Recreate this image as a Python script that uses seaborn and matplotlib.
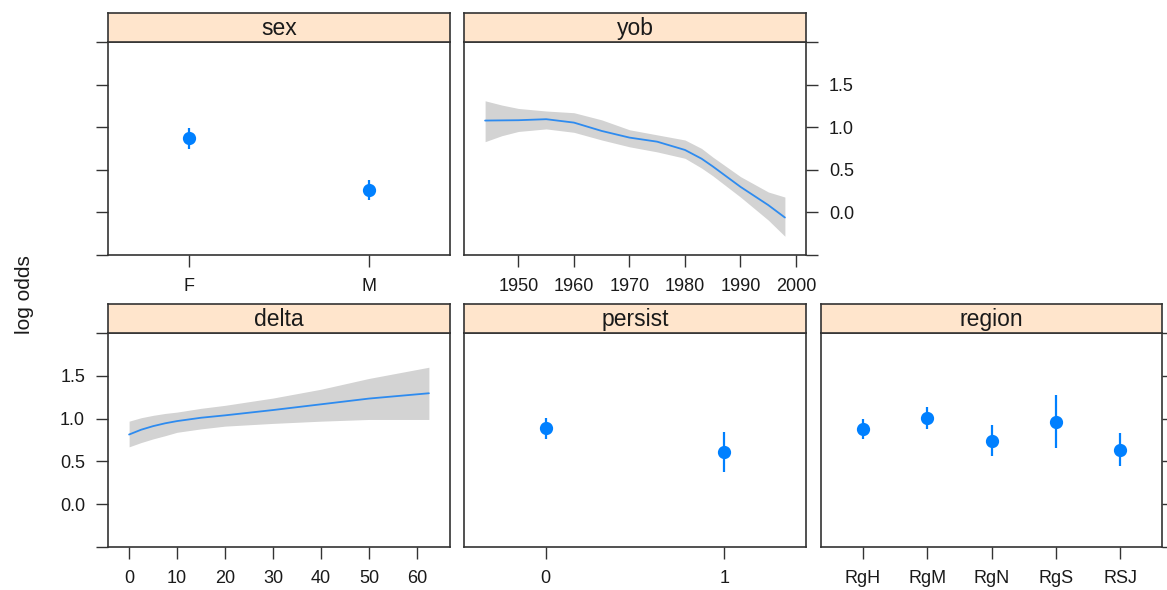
import numpy as np
import pandas as pd
import matplotlib
matplotlib.use("Agg")
import matplotlib.pyplot as plt
import seaborn as sns

# ---------------- data ----------------
sex_levels = ["F", "M"]
sex_fit = [0.874, 0.267]
sex_lower = [0.748, 0.149]
sex_upper = [0.995, 0.385]

yob_x = [1944, 1947, 1950, 1955, 1960, 1965, 1970, 1975, 1980, 1983, 1985, 1990, 1995, 1998]
yob_fit = [1.078, 1.08, 1.082, 1.094, 1.054, 0.956, 0.878, 0.83, 0.733, 0.63, 0.54, 0.30, 0.086, -0.06]
yob_lower = [0.83, 0.90, 0.95, 0.98, 0.94, 0.85, 0.77, 0.71, 0.635, 0.52, 0.43, 0.18, -0.09, -0.28]
yob_upper = [1.31, 1.26, 1.22, 1.19, 1.17, 1.086, 0.97, 0.91, 0.85, 0.75, 0.65, 0.42, 0.24, 0.18]

delta_x = [0, 2.5, 5, 7.5, 10, 15, 20, 30, 40, 50, 62.5]
delta_fit = [0.814, 0.87, 0.912, 0.945, 0.971, 1.01, 1.038, 1.10, 1.167, 1.234, 1.296]
delta_lower = [0.67, 0.72, 0.763, 0.80, 0.84, 0.88, 0.912, 0.944, 0.97, 0.99, 0.99]
delta_upper = [0.97, 1.01, 1.038, 1.06, 1.076, 1.12, 1.155, 1.24, 1.343, 1.469, 1.60]

persist_levels = ["0", "1"]
persist_fit = [0.885, 0.611]
persist_lower = [0.756, 0.376]
persist_upper = [1.002, 0.841]

region_levels = ["RgH", "RgM", "RgN", "RgS", "RSJ"]
region_fit = [0.881, 1.01, 0.74, 0.963, 0.638]
region_lower = [0.764, 0.873, 0.56, 0.658, 0.442]
region_upper = [0.999, 1.14, 0.924, 1.27, 0.826]

y_ticks = [-0.5, 0.0, 0.5, 1.0, 1.5, 2.0]
y_ticklabels = ["", "0.0", "0.5", "1.0", "1.5", ""]

# ---------------- style ----------------
sns.set_style("ticks")
plt.rcParams["font.family"] = ["Liberation Sans", "DejaVu Sans"]

BLUE = "#0080FF"
LINE = "#2E8BEF"
BAND = "#D3D3D3"
EDGE = "#333333"
STRIP = "#FFE5CC"
TICKFS = 13
STRIPFS = 16.5

W, H = 1167, 590
fig = plt.figure(figsize=(W / 100, H / 100), dpi=100)


def frac(x0, y0, x1, y1):
    return [x0 / W, 1 - y1 / H, (x1 - x0) / W, (y1 - y0) / H]


def make_panel(x0, x1, ytop, ybot, title):
    strip_h = 29
    ax = fig.add_axes(frac(x0, ytop, x1, ybot))
    sax = fig.add_axes(frac(x0, ytop - strip_h, x1, ytop))
    sax.set_facecolor(STRIP)
    sax.set_xticks([])
    sax.set_yticks([])
    for s in sax.spines.values():
        s.set_color(EDGE)
        s.set_linewidth(1.2)
    sax.text(0.5, 0.45, title, ha="center", va="center", fontsize=STRIPFS,
             color="#1a1a1a", transform=sax.transAxes)
    for s in ax.spines.values():
        s.set_visible(True)
        s.set_color(EDGE)
        s.set_linewidth(1.2)
    ax.set_ylim(-0.5, 2.0)
    ax.set_yticks(y_ticks)
    ax.tick_params(axis="both", direction="out", length=8.5, width=1.0,
                   color=EDGE, labelsize=TICKFS, labelcolor="#1a1a1a", pad=8)
    ax.set_facecolor("white")
    return ax


def style_y(ax, side, labels):
    if side is None:
        ax.tick_params(axis="y", left=False, right=False, labelleft=False, labelright=False)
        return
    if side == "left":
        ax.tick_params(axis="y", left=True, right=False, labelleft=labels, labelright=False)
    else:
        ax.tick_params(axis="y", left=False, right=True, labelleft=False, labelright=labels)
    ax.set_yticklabels(y_ticklabels)


def factor_panel(ax, levels, fit, lower, upper, pad):
    sns.pointplot(x=levels, y=fit, ax=ax, color=BLUE, linestyle="none",
                  markers="o", markersize=7.5, errorbar=None)
    ax.vlines(np.arange(len(levels)), lower, upper, color=BLUE, lw=1.6)
    ax.set_xlim(-pad, len(levels) - 1 + pad)
    ax.set_xlabel("")
    ax.set_ylabel("")


def curve_panel(ax, x, fit, lower, upper, xlim, xticks):
    ax.fill_between(x, lower, upper, color=BAND, lw=0)
    sns.lineplot(x=x, y=fit, ax=ax, color=LINE, lw=1.3)
    ax.set_xlim(*xlim)
    ax.set_xticks(xticks)
    ax.set_xlabel("")
    ax.set_ylabel("")


# top row
ax_sex = make_panel(108, 450, 42, 255, "sex")
factor_panel(ax_sex, sex_levels, sex_fit, sex_lower, sex_upper, 0.455)
style_y(ax_sex, "left", False)

ax_yob = make_panel(464, 806, 42, 255, "yob")
curve_panel(ax_yob, yob_x, yob_fit, yob_lower, yob_upper, (1940.2, 2001.8),
            [1950, 1960, 1970, 1980, 1990, 2000])
style_y(ax_yob, "right", True)

# bottom row
ax_delta = make_panel(108, 450, 333, 547, "delta")
curve_panel(ax_delta, delta_x, delta_fit, delta_lower, delta_upper, (-4.4, 66.9),
            [0, 10, 20, 30, 40, 50, 60])
style_y(ax_delta, "left", True)

ax_persist = make_panel(464, 806, 333, 547, "persist")
factor_panel(ax_persist, persist_levels, persist_fit, persist_lower, persist_upper, 0.458)
style_y(ax_persist, None, False)

ax_region = make_panel(821, 1162, 333, 547, "region")
factor_panel(ax_region, region_levels, region_fit, region_lower, region_upper, 0.65)
style_y(ax_region, "right", False)

for ax in [ax_sex, ax_yob, ax_delta, ax_persist, ax_region]:
    ax.set_ylim(-0.5, 2.0)

fig.text(25 / W, 1 - 295 / H, "log odds", rotation=90, ha="center", va="center",
         fontsize=15, color="#1a1a1a")

fig.savefig("out.png", dpi=100)
